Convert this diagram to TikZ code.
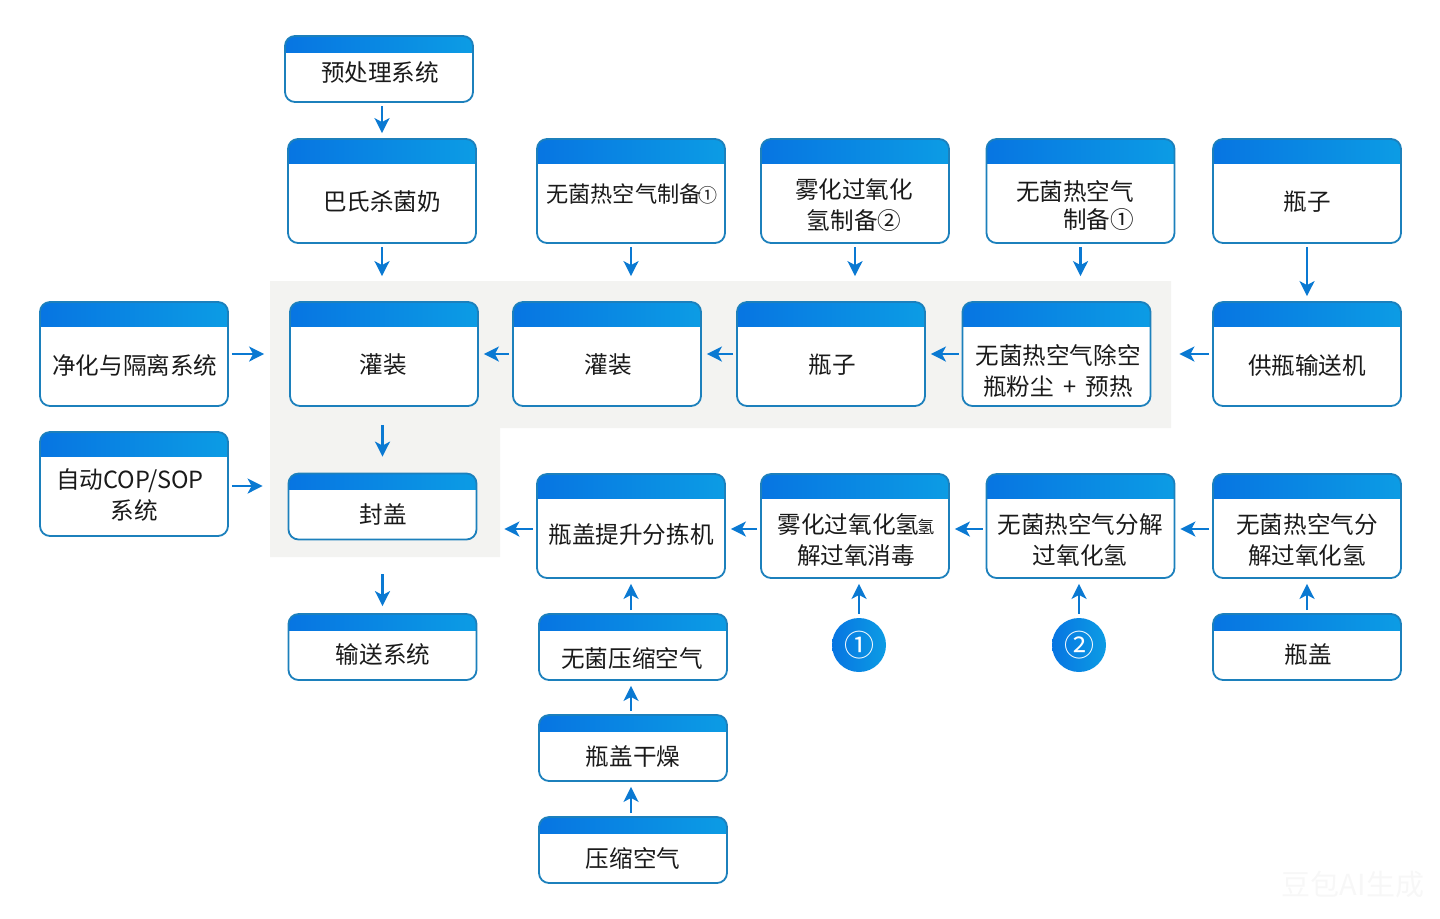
\documentclass[tikz,border=0pt]{standalone}
\usepackage{fontspec}
\setmainfont{Noto Sans CJK SC}
\usetikzlibrary{arrows.meta}
\definecolor{boxline}{HTML}{1C80BC}
\definecolor{headleft}{HTML}{0775E2}
\definecolor{headright}{HTML}{0C9CE4}
\definecolor{flowblue}{HTML}{0A79D2}
\definecolor{zonegray}{HTML}{F3F3F1}
\definecolor{inkblack}{HTML}{1A1A1A}
\tikzset{
  flowbox/.style={draw=boxline, fill=white, line width=0.9pt, rounded corners=5pt, inner sep=0pt,
    path picture={\fill[sharp corners, left color=headleft, right color=headright]
      (path picture bounding box.north west) rectangle ([yshift=-#1]path picture bounding box.north east);}},
  tallbox/.style={flowbox=12pt, minimum width=94pt, minimum height=52pt},
  shortbox/.style={flowbox=8pt, minimum width=94pt, minimum height=33pt},
  boxtext/.style={text=inkblack, align=center, inner sep=0pt, font=\fontsize{11.8}{15.5}\selectfont},
  flow/.style={draw=flowblue, line width=1.2pt, -{Stealth[length=7.5pt,width=7.5pt,inset=2pt]}, shorten <=1.5pt, shorten >=2.5pt},
  badge/.style={circle, minimum size=27pt, inner sep=0pt, text=white, left color=headleft, right color=headright, font=\fontsize{15}{15}\selectfont}
}
\begin{document}
\begin{tikzpicture}[x=0.5pt,y=-0.5pt]
\useasboundingbox (0,0) rectangle (1440,918);
\fill[zonegray] (270,281) -- (1171,281) -- (1171,428) -- (500,428) -- (500,557) -- (270,557) -- cycle;
% top rows
\node[shortbox] (pretreat) at (379,69) {};
\node[boxtext] (pretreattext) at (380,72) {预处理系统};
\node[tallbox] (milk) at (382,191) {};
\node[boxtext] (milktext) at (382,202) {巴氏杀菌奶};
\node[tallbox] (airA) at (631,191) {};
\node[boxtext, font=\fontsize{11.1}{15.5}\selectfont] (airAtext) at (632,194) {无菌热空气制备{\fontsize{9.5}{8}\selectfont\hspace{-1.5pt}①}};
\node[tallbox] (mist) at (855,191) {};
\node[boxtext] (misttext) at (854,205) {雾化过氧化\\氢制备②};
\node[tallbox] (airB) at (1080.5,191) {};
\node[boxtext, align=right] (airBtext) at (1075,206) {无菌热空气\\[-1.5pt]制备①};
\node[tallbox] (bottle) at (1307,191) {};
\node[boxtext] (bottletext) at (1307,202) {瓶子};
% grey zone upper row
\node[tallbox] (clean) at (134,354) {};
\node[boxtext] (cleantext) at (135,365) {净化与隔离系统};
\node[tallbox] (fillA) at (384,354) {};
\node[boxtext] (fillAtext) at (383,365) {灌装};
\node[tallbox] (fillB) at (607,354) {};
\node[boxtext] (fillBtext) at (608,365) {灌装};
\node[tallbox] (bottleB) at (831,354) {};
\node[boxtext] (bottleBtext) at (832,365) {瓶子};
\node[tallbox] (dust) at (1056.5,354) {};
\node[boxtext] (dusttext) at (1058,371) {无菌热空气除空\\瓶粉尘 \,+\, 预热};
\node[tallbox] (feeder) at (1307,354) {};
\node[boxtext] (feedertext) at (1307,365) {供瓶输送机};
% lower rows
\node[tallbox] (cip) at (134,484) {};
\node[boxtext] (ciptext) at (130,495) {自动COP/SOP\\\hspace*{4.5pt}系统};
\node[shortbox] (cap) at (382.5,506.5) {};
\node[boxtext] (captext) at (383,514) {封盖};
\node[tallbox] (lift) at (631,526) {};
\node[boxtext] (lifttext) at (631,534) {瓶盖提升分拣机};
\node[tallbox] (steril) at (855,526) {};
\node[boxtext] (steriltext) at (856,540) {雾化过氧化氢{\fontsize{8.5}{8}\selectfont\hspace{-1pt}氢}\\解过氧消毒};
\node[tallbox] (splitA) at (1080.5,526) {};
\node[boxtext] (splitAtext) at (1080,540) {无菌热空气分解\\过氧化氢};
\node[tallbox] (splitB) at (1307,526) {};
\node[boxtext] (splitBtext) at (1307,540) {无菌热空气分\\解过氧化氢};
\node[shortbox] (convey) at (382.5,647) {};
\node[boxtext] (conveytext) at (383,654) {输送系统};
\node[shortbox] (sterair) at (633,647) {};
\node[boxtext] (sterairtext) at (632,658) {无菌压缩空气};
\node[shortbox] (drying) at (633,748) {};
\node[boxtext] (dryingtext) at (633,756) {瓶盖干燥};
\node[shortbox] (comp) at (633,850) {};
\node[boxtext] (comptext) at (633,858) {压缩空气};
\node[shortbox] (lid) at (1307,647) {};
\node[boxtext] (lidtext) at (1308,654) {瓶盖};
\node[badge] (one) at (859,645) {①};
\node[badge] (two) at (1079,645) {②};
\node[text=white!97!black, inner sep=0pt, font=\fontsize{14.5}{15}\selectfont] (mark) at (1353,884) {豆包AI生成};
% vertical arrows
\draw[flow] (milk.north |- pretreat.south) -- (milk.north);
\draw[flow, shorten >=12.5pt] (milk.south) -- (milk.south |- fillA.north);
\draw[flow, shorten >=12.5pt] (airA.south) -- (airA.south |- fillB.north);
\draw[flow, shorten >=12.5pt] (mist.south) -- (mist.south |- bottleB.north);
\draw[flow, shorten >=12.5pt] (airB.south) -- (airB.south |- dust.north);
\draw[flow] (bottle.south) -- (feeder.north);
\draw[flow, shorten <=9pt, shorten >=8pt] (cap.north |- fillA.south) -- (cap.north);
\draw[flow, shorten <=17pt, shorten >=3.5pt] (cap.south) -- (convey.north);
% horizontal arrows
\draw[flow, shorten >=12.5pt] (clean.east) -- (fillA.west);
\draw[flow, shorten >=12.5pt] ([yshift=-1pt]cip.east) -- ([yshift=-1pt]cip.east -| cap.west);
\draw[flow] (fillB.west) -- (fillA.east);
\draw[flow] (bottleB.west) -- (fillB.east);
\draw[flow] (dust.west) -- (bottleB.east);
\draw[flow, shorten >=14pt] (feeder.west) -- (dust.east);
\draw[flow, shorten >=13.5pt] ([yshift=-1.5pt]lift.west) -- ([yshift=-1.5pt]lift.west -| cap.east);
\draw[flow] ([yshift=-1.5pt]steril.west) -- ([yshift=-1.5pt]lift.east);
\draw[flow] ([yshift=-1.5pt]splitA.west) -- ([yshift=-1.5pt]steril.east);
\draw[flow] ([yshift=-1.5pt]splitB.west) -- ([yshift=-1.5pt]splitA.east);
% arrows going up
\draw[flow] (lift.south |- sterair.north) -- (lift.south);
\draw[flow] (lift.south |- drying.north) -- (lift.south |- sterair.south);
\draw[flow] (lift.south |- comp.north) -- (lift.south |- drying.south);
\draw[flow, shorten <=2pt] (one.north) -- (one.north |- steril.south);
\draw[flow, shorten <=2pt] (two.north) -- (two.north |- splitA.south);
\draw[flow] (lid.north) -- (splitB.south);
\end{tikzpicture}
\end{document}
